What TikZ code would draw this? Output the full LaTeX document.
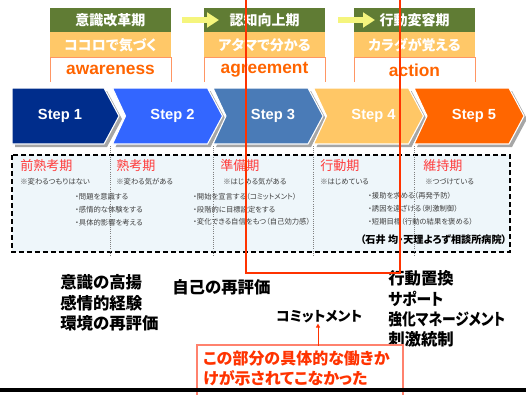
\documentclass[tikz,border=0pt]{standalone}
\usepackage{graphicx}
\usepackage{fontspec}
\setmainfont{Liberation Sans}
\newfontfamily\jp[RawFeature=+palt]{Noto Sans CJK JP}
\usetikzlibrary{arrows.meta}
\definecolor{hdgreen}{RGB}{96,124,52}
\definecolor{hdorange}{RGB}{255,200,104}
\definecolor{hdline}{RGB}{255,150,100}
\definecolor{wordorange}{RGB}{255,100,0}
\definecolor{yelarrow}{RGB}{245,245,125}
\definecolor{stepA}{RGB}{0,45,140}
\definecolor{stepB}{RGB}{51,102,255}
\definecolor{stepC}{RGB}{74,123,183}
\definecolor{stepD}{RGB}{255,199,102}
\definecolor{stepE}{RGB}{255,102,0}
\definecolor{stagebg}{RGB}{238,246,250}
\definecolor{stagered}{RGB}{255,60,60}
\definecolor{redline}{RGB}{255,51,0}
\definecolor{notebox}{RGB}{255,130,110}
\begin{document}
\begin{tikzpicture}[x=0.75pt,y=-0.75pt,
    hdtext/.style={text=white, inner sep=0, font=\jp\bfseries\fontsize{10.5}{12}\selectfont},
    wordtext/.style={text=wordorange, inner sep=0, font=\bfseries\fontsize{13}{14}\selectfont},
    steptext/.style={text=white, inner sep=0, font=\bfseries\fontsize{11}{12}\selectfont},
    stagetitle/.style={text=stagered, anchor=west, inner sep=0, font=\jp\fontsize{9.8}{11}\selectfont},
    stagesmall/.style={text=black!75, anchor=west, inner sep=0, font=\jp\fontsize{5.5}{6}\selectfont},
    bigtext/.style={anchor=west, inner sep=0, align=left, font=\jp\bfseries\fontsize{12.3}{15.2}\selectfont}]
\useasboundingbox (0,0) rectangle (526,394);

% phase boxes on top
\foreach \x/\a/\b/\c [count=\i] in {50/意識改革期/ココロで気づく/awareness,
                                     204/認知向上期/アタマで分かる/agreement,
                                     354/行動変容期/カラダが覚える/action} {
  \fill[hdgreen] (\x,8) rectangle ++(121,24);
  \fill[hdorange] (\x,32) rectangle ++(121,25);
  \draw[hdline, line width=0.6pt] (\x,82) -- (\x,57) -- ++(121,0) -- ++(0,25);
  \node[hdtext] (head\i) at (\x+60.5,20) {\a};
  \node[hdtext] (feel\i) at (\x+60.5,45) {\b};
  \node[wordtext] (word\i) at (\x+60.5,70) {\c};
}
\coordinate (ya1) at (182,20); \coordinate (yb1) at (219,20);
\coordinate (ya2) at (338,20); \coordinate (yb2) at (375,20);
\draw[yelarrow, line width=3.8pt, -{Triangle[length=9pt,width=11pt]}] (ya1) -- (yb1);
\draw[yelarrow, line width=3.8pt, -{Triangle[length=9pt,width=11pt]}] (ya2) -- (yb2);

% step arrows
\fill[gray!70] (15,91) -- (107,91) -- (122,119) -- (107,147) -- (15,147) -- cycle;
\filldraw[fill=stepA, draw=white, line width=0.8pt] (12,88) -- (104,88) -- (119,116) -- (104,144) -- (12,144) -- cycle;
\node[steptext] (step1) at (60,116) {Step 1};
\foreach \c [count=\i from 2] in {stepB,stepC,stepD,stepE} {
  \pgfmathsetmacro{\L}{12+100.5*(\i-1)}
  \fill[gray!70] (\L+3,91) -- ++(95,0) -- ++(15,28) -- ++(-15,28) -- ++(-95,0) -- ++(13,-28) -- cycle;
  \filldraw[fill=\c, draw=white, line width=0.8pt] (\L,88) -- ++(95,0) -- ++(15,28) -- ++(-15,28) -- ++(-95,0) -- ++(13,-28) -- cycle;
  \node[steptext] (step\i) at (\L+60,116) {Step \i};
}

% stages of change
\filldraw[fill=stagebg, draw=black, line width=1.5pt, dash pattern=on 4pt off 2pt] (12,155) rectangle (510,252);
\foreach \x in {110,213,313,414}
  \draw[gray, densely dotted, line width=0.6pt] (\x,146) -- (\x,256);
\node[stagetitle] (pre) at (20,166) {前熟考期};
\node[stagetitle] (con) at (116,166) {熟考期};
\node[stagetitle] (prep) at (220,166) {準備期};
\node[stagetitle] (act) at (320,166) {行動期};
\node[stagetitle] (main) at (423,166) {維持期};
\node[stagesmall] (preS) at (20,182) {※変わるつもりはない};
\node[stagesmall] (conS) at (116,182) {※変わる気がある};
\node[stagesmall] (prepS) at (223,182) {※はじめる気がある};
\node[stagesmall] (actS) at (320,182) {※はじめている};
\node[stagesmall] (mainS) at (425,182) {※つづけている};
\node[stagesmall] (preA) at (75,197) {・問題を意識する};
\node[stagesmall] (preB) at (75,210) {・感情的な体験をする};
\node[stagesmall] (preC) at (75,223) {・具体的影響を考える};
\node[stagesmall] (prepA) at (193,197) {・開始を宣言する（コミットメント）};
\node[stagesmall] (prepB) at (193,210) {・段階的に目標設定をする};
\node[stagesmall] (prepC) at (193,222) {・変化できる自信をもつ（自己効力感）};
\node[stagesmall] (actA) at (368,196) {・援助を求める（再発予防）};
\node[stagesmall] (actB) at (368,209) {・誘因を遠ざける（刺激制御）};
\node[stagesmall] (actC) at (368,222) {・短期目標（行動の結果を褒める）};
\node[anchor=east, inner sep=0, font=\jp\bfseries\fontsize{7.6}{9}\selectfont] (cite) at (507,240) {（石井 均・天理よろず相談所病院）};

% processes
\node[bigtext] (proc1) at (60,303) {意識の高揚\\感情的経験\\環境の再評価};
\node[bigtext] (proc2) at (172,287) {自己の再評価};
\node[bigtext] (proc4) at (388,309) {行動置換\\\scalebox{0.9}[1]{サポート}\\\scalebox{0.84}[1]{強化マネージメント}\\刺激統制};
\node[anchor=west, inner sep=0, font=\jp\bfseries\fontsize{10.4}{11}\selectfont] (commit) at (276,317) {コミットメント};

% the missing part
\draw[redline, line width=1.5pt] (246,-2) -- (246,273) -- (400,273) -- (400,-2);
\filldraw[fill=white, draw=notebox, line width=0.8pt] (197,345) rectangle (403,400);
\node[anchor=west, inner sep=0, align=left, text=redline, font=\jp\bfseries\fontsize{12}{15}\selectfont] (note) at (203,368) {この部分の具体的な働きか\\けが示されてこなかった};
\draw[redline, line width=0.5pt, -{Triangle[length=3pt,width=3pt]}] (commit.south -| 318,0) ++(0,22) -- (commit.south -| 318,0);
\draw[black, line width=2.4pt] (0,390) -- (526,390);
\end{tikzpicture}
\end{document}
